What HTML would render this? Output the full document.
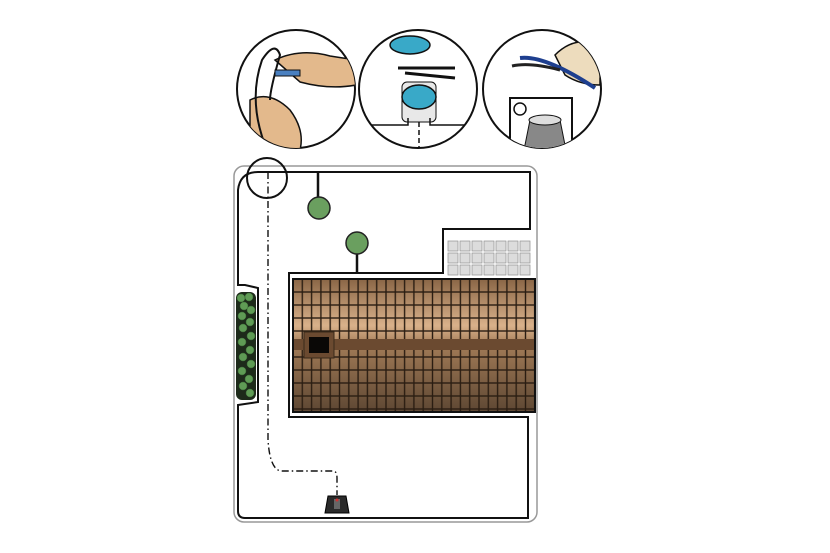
<!DOCTYPE html>
<html><head><meta charset="utf-8"><style>html,body{margin:0;padding:0;background:#fff}svg{display:block}</style></head><body>
<svg width="830" height="553" viewBox="0 0 830 553" xmlns="http://www.w3.org/2000/svg">
<defs>
<linearGradient id="roof" x1="0" y1="0" x2="0" y2="1">
<stop offset="0" stop-color="#8a6646"/><stop offset="0.35" stop-color="#d9b18a"/><stop offset="0.5" stop-color="#a07a56"/><stop offset="1" stop-color="#5e4733"/>
</linearGradient>
<pattern id="tiles" x="293" y="279" width="9.3" height="13" patternUnits="userSpaceOnUse">
<rect width="9.3" height="13" fill="none" stroke="#2a1d12" stroke-width="1.4"/>
</pattern>
<clipPath id="c1"><circle cx="296" cy="89" r="59"/></clipPath>
<clipPath id="c2"><circle cx="418" cy="89" r="59"/></clipPath>
<clipPath id="c3"><circle cx="542" cy="89" r="59"/></clipPath>
</defs>
<!-- outer gray border -->
<rect x="234" y="166" width="303" height="356" rx="10" fill="none" stroke="#999" stroke-width="1.5"/>
<!-- boundary wire -->
<path d="M318,172 L530,172 L530,229 L443,229 L443,273 L289,273 L289,417 L528,417 L528,518 L245,518 Q238,518 238,511 L238,405 L258,402 L258,288 L245,285 L238,285 L238,190 Q240,172 258,172 L318,172" fill="none" stroke="#111" stroke-width="2"/>
<path d="M318,172 L318,197 M357,254 L357,273" stroke="#111" stroke-width="2.5"/>
<!-- hedge -->
<rect x="236" y="292" width="20" height="108" rx="6" fill="#1d2a1a"/>
<g fill="#5f9b55" stroke="#3a6b35" stroke-width="0.5">
<circle cx="241" cy="298" r="4"/><circle cx="249" cy="297" r="4"/><circle cx="244" cy="306" r="4"/><circle cx="251" cy="310" r="4"/><circle cx="242" cy="316" r="4"/><circle cx="250" cy="322" r="4"/><circle cx="243" cy="328" r="4"/><circle cx="251" cy="336" r="4"/><circle cx="242" cy="342" r="4"/><circle cx="250" cy="350" r="4"/><circle cx="243" cy="357" r="4"/><circle cx="251" cy="364" r="4"/><circle cx="242" cy="371" r="4"/><circle cx="249" cy="379" r="4"/><circle cx="243" cy="386" r="4"/><circle cx="250" cy="393" r="4"/>
</g>
<!-- trees -->
<circle cx="319" cy="208" r="11" fill="#6a9f5f" stroke="#222" stroke-width="1.5"/>
<circle cx="357" cy="243" r="11" fill="#6a9f5f" stroke="#222" stroke-width="1.5"/>
<!-- paving -->
<g fill="#ddd" stroke="#aaa" stroke-width="1">
<rect x="446" y="240" width="87" height="36" fill="#fff" stroke="none"/>
</g>
<g fill="#dcdcdc" stroke="#999" stroke-width="0.8">
<rect x="448" y="241" width="10" height="10"/><rect x="460" y="241" width="10" height="10"/><rect x="472" y="241" width="10" height="10"/><rect x="484" y="241" width="10" height="10"/><rect x="496" y="241" width="10" height="10"/><rect x="508" y="241" width="10" height="10"/><rect x="520" y="241" width="10" height="10"/>
<rect x="448" y="253" width="10" height="10"/><rect x="460" y="253" width="10" height="10"/><rect x="472" y="253" width="10" height="10"/><rect x="484" y="253" width="10" height="10"/><rect x="496" y="253" width="10" height="10"/><rect x="508" y="253" width="10" height="10"/><rect x="520" y="253" width="10" height="10"/>
<rect x="448" y="265" width="10" height="10"/><rect x="460" y="265" width="10" height="10"/><rect x="472" y="265" width="10" height="10"/><rect x="484" y="265" width="10" height="10"/><rect x="496" y="265" width="10" height="10"/><rect x="508" y="265" width="10" height="10"/><rect x="520" y="265" width="10" height="10"/>
</g>
<!-- house -->
<rect x="293" y="279" width="242" height="133" fill="url(#roof)"/>
<rect x="293" y="279" width="242" height="133" fill="url(#tiles)"/>
<rect x="293" y="339" width="242" height="11" fill="#6b4a30"/>
<rect x="304" y="332" width="30" height="26" fill="#6b4a30" stroke="#3a2a1a"/>
<rect x="309" y="337" width="20" height="16" fill="#0a0806"/>
<rect x="293" y="279" width="242" height="133" fill="none" stroke="#111" stroke-width="2"/>
<!-- guide wire dash-dot -->
<path d="M268,172 L268,440 Q270,471 282,471 L333,471 Q337,471 337,478 L337,495" fill="none" stroke="#111" stroke-width="1.4" stroke-dasharray="7,3,1.5,3"/>
<circle cx="267" cy="178" r="20" fill="none" stroke="#111" stroke-width="2"/>
<!-- mower -->
<path d="M328,496 L346,496 L349,513 L325,513 Z" fill="#2a2a2a" stroke="#000"/>
<rect x="334" y="499" width="6" height="10" fill="#666"/>
<circle cx="337" cy="500" r="1.5" fill="#c33"/>
<!-- top circles -->
<circle cx="296" cy="89" r="59" fill="#fff" stroke="#111" stroke-width="2"/>
<g clip-path="url(#c1)">
<path d="M275,60 Q300,48 330,56 L356,60 L356,85 Q330,90 300,82 Z" fill="#e3b98c" stroke="#111" stroke-width="1.5"/>
<path d="M250,100 Q270,90 290,110 Q305,130 300,150 L250,150 Z" fill="#e3b98c" stroke="#111" stroke-width="1.5"/>
<path d="M265,145 Q248,100 262,60 Q275,40 280,55 Q270,90 270,100" fill="none" stroke="#111" stroke-width="2"/>
<rect x="275" y="70" width="25" height="6" fill="#4a80c0" stroke="#111"/>
</g>
<circle cx="418" cy="89" r="59" fill="#fff" stroke="#111" stroke-width="2"/>
<g clip-path="url(#c2)">
<ellipse cx="410" cy="45" rx="20" ry="9" fill="#39a9c8" stroke="#111" stroke-width="1.5"/>
<path d="M398,68 L455,68 M405,73 L455,78" stroke="#111" stroke-width="3"/>
<rect x="402" y="82" width="34" height="40" rx="5" fill="#e8e8e8" stroke="#111"/>
<ellipse cx="419" cy="97" rx="17" ry="12" fill="#39a9c8" stroke="#111" stroke-width="1.5"/>
<path d="M360,125 L408,125 L408,118 M430,118 L430,125 L478,125" fill="none" stroke="#111" stroke-width="1.5"/>
<path d="M419,122 L419,150" stroke="#111" stroke-width="1.5" stroke-dasharray="5,3"/>
</g>
<circle cx="542" cy="89" r="59" fill="#fff" stroke="#111" stroke-width="2"/>
<g clip-path="url(#c3)">
<path d="M555,55 Q575,35 600,45 L600,85 Q580,85 565,75 Z" fill="#eddcbd" stroke="#111" stroke-width="1.5"/>
<path d="M520,58 Q545,55 595,88" stroke="#1e3f8f" stroke-width="4" fill="none"/>
<path d="M512,66 Q530,62 560,70" stroke="#222" stroke-width="3" fill="none"/>
<rect x="510" y="98" width="62" height="60" fill="#fff" stroke="#111" stroke-width="2"/>
<circle cx="520" cy="109" r="6" fill="none" stroke="#111" stroke-width="1.5"/>
<path d="M530,120 L560,120 L566,150 L524,150 Z" fill="#888" stroke="#111"/>
<ellipse cx="545" cy="120" rx="16" ry="5" fill="#ddd" stroke="#111"/>
</g>
</svg>
</body></html>
